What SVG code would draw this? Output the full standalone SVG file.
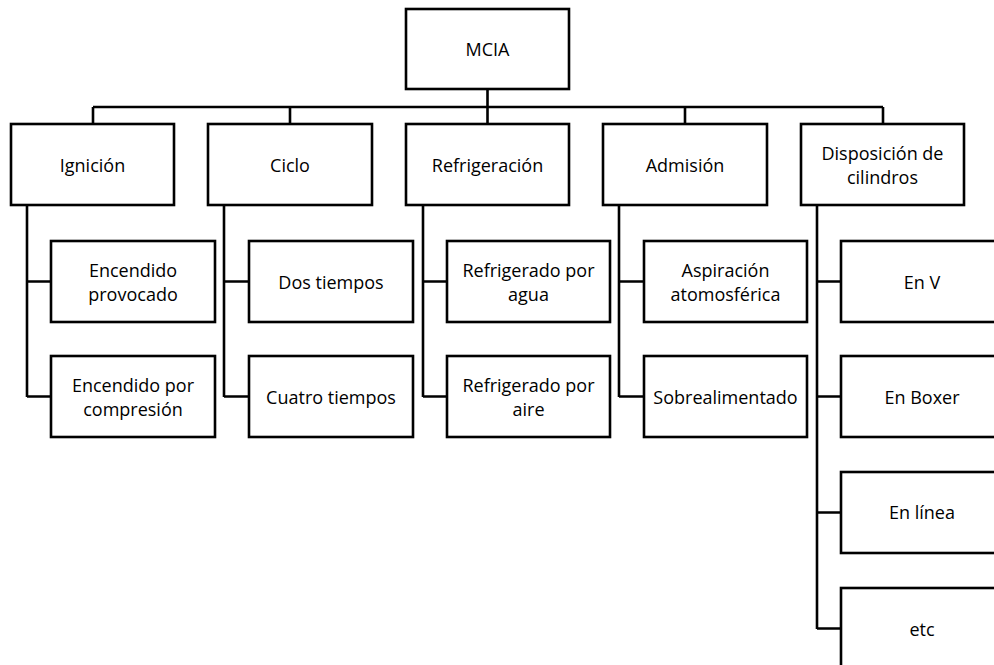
<svg xmlns="http://www.w3.org/2000/svg" width="994" height="665" viewBox="0 0 994 665">
<style>
rect{fill:#fff;stroke:#000;stroke-width:2.6}
text{font-family:"Open Sans","Noto Sans",sans-serif;font-size:18px;fill:#000;text-anchor:middle;dominant-baseline:central}
#connectors path{fill:none;stroke:#000;stroke-width:2.6}
</style>
<rect x="0" y="0" width="994" height="665" style="stroke:none"/>
<g id="connectors">
<path d="M487.5 89V107M93 107H883M93 107V124M290 107V124M487.5 107V124M685 107V124M883 107V124"/>
<path d="M27 205V397M27 281.5H51M27 396.5H51"/>
<path d="M224 205V397M224 281.5H249M224 396.5H249"/>
<path d="M423 205V397M423 281.5H447M423 396.5H447"/>
<path d="M619 205V397M619 281.5H644M619 396.5H644"/>
<path d="M817 205V629M817 281.5H841M817 396.5H841M817 512.5H841M817 628.5H841"/>
</g>
<g id="mcia"><rect x="406" y="9" width="163" height="80"/><text x="487.5" y="49">MCIA</text></g>
<g id="ignicion"><rect x="11" y="124" width="163" height="81"/><text x="92.5" y="164.5">Ignición</text></g>
<g id="ciclo"><rect x="208" y="124" width="164" height="81"/><text x="290" y="164.5">Ciclo</text></g>
<g id="refrigeracion"><rect x="406" y="124" width="163" height="81"/><text x="487.5" y="164.5">Refrigeración</text></g>
<g id="admision"><rect x="603" y="124" width="164" height="81"/><text x="685" y="164.5">Admisión</text></g>
<g id="disposicion"><rect x="801" y="124" width="163" height="81"/><text x="882.5" y="153">Disposición de</text><text x="882.5" y="177">cilindros</text></g>
<g id="encendido-provocado"><rect x="51" y="241" width="164" height="81"/><text x="133" y="269.5">Encendido</text><text x="133" y="293.5">provocado</text></g>
<g id="encendido-compresion"><rect x="51" y="356" width="164" height="81"/><text x="133" y="384.5">Encendido por</text><text x="133" y="408.5">compresión</text></g>
<g id="dos-tiempos"><rect x="249" y="241" width="164" height="81"/><text x="331" y="281.5">Dos tiempos</text></g>
<g id="cuatro-tiempos"><rect x="249" y="356" width="164" height="81"/><text x="331" y="396.5">Cuatro tiempos</text></g>
<g id="refrigerado-agua"><rect x="447" y="241" width="163" height="81"/><text x="528.5" y="269.5">Refrigerado por</text><text x="528.5" y="293.5">agua</text></g>
<g id="refrigerado-aire"><rect x="447" y="356" width="163" height="81"/><text x="528.5" y="384.5">Refrigerado por</text><text x="528.5" y="408.5">aire</text></g>
<g id="aspiracion"><rect x="644" y="241" width="163" height="81"/><text x="725.5" y="269.5">Aspiración</text><text x="725.5" y="293.5">atomosférica</text></g>
<g id="sobrealimentado"><rect x="644" y="356" width="163" height="81"/><text x="725.5" y="396.5">Sobrealimentado</text></g>
<g id="en-v"><rect x="841" y="241" width="170" height="81"/><text x="922" y="281.5">En V</text></g>
<g id="en-boxer"><rect x="841" y="356" width="170" height="81"/><text x="922" y="396.5">En Boxer</text></g>
<g id="en-linea"><rect x="841" y="472" width="170" height="81"/><text x="922" y="512">En línea</text></g>
<g id="etc"><rect x="841" y="588" width="170" height="100"/><text x="922" y="628.5">etc</text></g>
</svg>
